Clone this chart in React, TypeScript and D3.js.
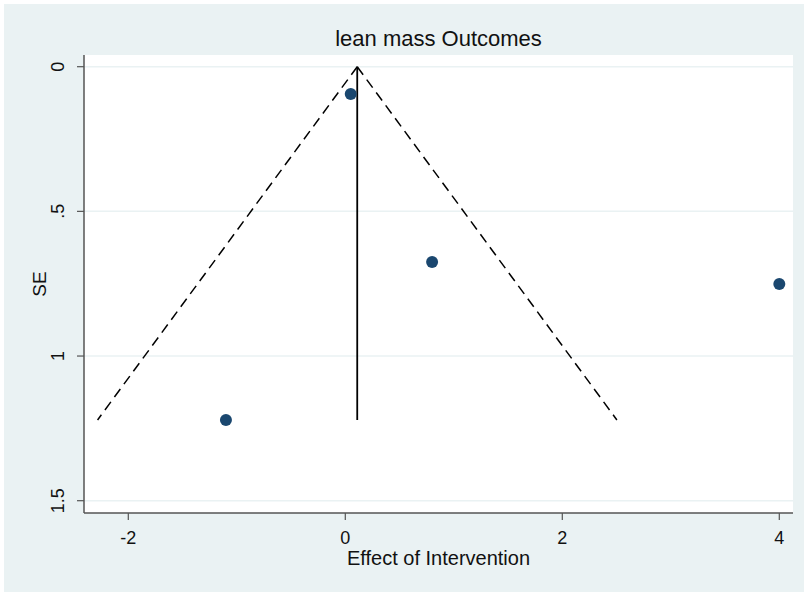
import React from "react";
import * as d3 from "d3";

const effects = [0.05, 0.8, 4.0, -1.1];
const standardErrors = [0.094, 0.675, 0.751, 1.221];
const pooledEffect = 0.11;
const maxSE = 1.221;
const xTicks = [-2, 0, 2, 4];
const yTicks = [0, 0.5, 1, 1.5];
const yTickLabels = ["0", ".5", "1", "1.5"];

const W = 804;
const H = 593;

export default function App() {
  const x = d3.scaleLinear().domain([-2, 4]).range([128.3, 779.3]);
  const y = d3.scaleLinear().domain([0, 1.5]).range([66.7, 500.7]);

  const plotLeft = 84;
  const plotRight = 793;
  const plotTop = 55;
  const plotBottom = 513;
  const font = "'Liberation Sans', Arial, sans-serif";

  const line = d3
    .line<[number, number]>()
    .x((d) => x(d[0]))
    .y((d) => y(d[1]));

  const leftLimit: [number, number][] = [
    [pooledEffect, 0],
    [pooledEffect - 1.96 * maxSE, maxSE],
  ];
  const rightLimit: [number, number][] = [
    [pooledEffect, 0],
    [pooledEffect + 1.96 * maxSE, maxSE],
  ];
  const centre: [number, number][] = [
    [pooledEffect, 0],
    [pooledEffect, maxSE],
  ];

  return (
    <svg
      width={W}
      height={H}
      style={{ position: "absolute", left: 0, top: 0, background: "#ffffff" }}
    >
      <rect x={4} y={4} width={800} height={588} fill="#eaf2f3" />
      <rect
        x={plotLeft}
        y={plotTop}
        width={plotRight - plotLeft}
        height={plotBottom - plotTop}
        fill="#ffffff"
      />
      {yTicks.map((t) => (
        <line
          key={"g" + t}
          x1={plotLeft}
          x2={plotRight}
          y1={y(t)}
          y2={y(t)}
          stroke="#eaf2f3"
          strokeWidth={1.5}
        />
      ))}
      <text
        x={(plotLeft + plotRight) / 2}
        y={46}
        textAnchor="middle"
        fontFamily={font}
        fontSize={22}
        fill="#111"
      >
        lean mass Outcomes
      </text>

      {/* funnel limits and pooled estimate */}
      <path d={line(leftLimit) || ""} fill="none" stroke="#000" strokeWidth={1.5} strokeDasharray="10 6" />
      <path d={line(rightLimit) || ""} fill="none" stroke="#000" strokeWidth={1.5} strokeDasharray="10 6" />
      <path d={line(centre) || ""} fill="none" stroke="#000" strokeWidth={1.8} />

      {effects.map((e, i) => (
        <circle key={i} cx={x(e)} cy={y(standardErrors[i])} r={6} fill="#1a476f" />
      ))}

      {/* axes */}
      <line x1={plotLeft} x2={plotLeft} y1={plotTop} y2={plotBottom} stroke="#555" strokeWidth={1.5} />
      <line x1={plotLeft} x2={plotRight} y1={plotBottom} y2={plotBottom} stroke="#555" strokeWidth={1.5} />
      {yTicks.map((t, i) => (
        <g key={"y" + t}>
          <line x1={plotLeft - 7} x2={plotLeft} y1={y(t)} y2={y(t)} stroke="#555" strokeWidth={1.2} />
          <text
            transform={`translate(${plotLeft - 20},${y(t)}) rotate(-90)`}
            textAnchor="middle"
            fontFamily={font}
            fontSize={18}
            fill="#111"
          >
            {yTickLabels[i]}
          </text>
        </g>
      ))}
      {xTicks.map((t) => (
        <g key={"x" + t}>
          <line x1={x(t)} x2={x(t)} y1={plotBottom} y2={plotBottom + 7} stroke="#555" strokeWidth={1.2} />
          <text
            x={x(t)}
            y={544}
            textAnchor="middle"
            fontFamily={font}
            fontSize={18}
            fill="#111"
          >
            {t}
          </text>
        </g>
      ))}
      <text
        x={(plotLeft + plotRight) / 2}
        y={565}
        textAnchor="middle"
        fontFamily={font}
        fontSize={20}
        fill="#111"
      >
        Effect of Intervention
      </text>
      <text
        transform={`translate(46,${(plotTop + plotBottom) / 2}) rotate(-90)`}
        textAnchor="middle"
        fontFamily={font}
        fontSize={19}
        fill="#111"
      >
        SE
      </text>
    </svg>
  );
}
